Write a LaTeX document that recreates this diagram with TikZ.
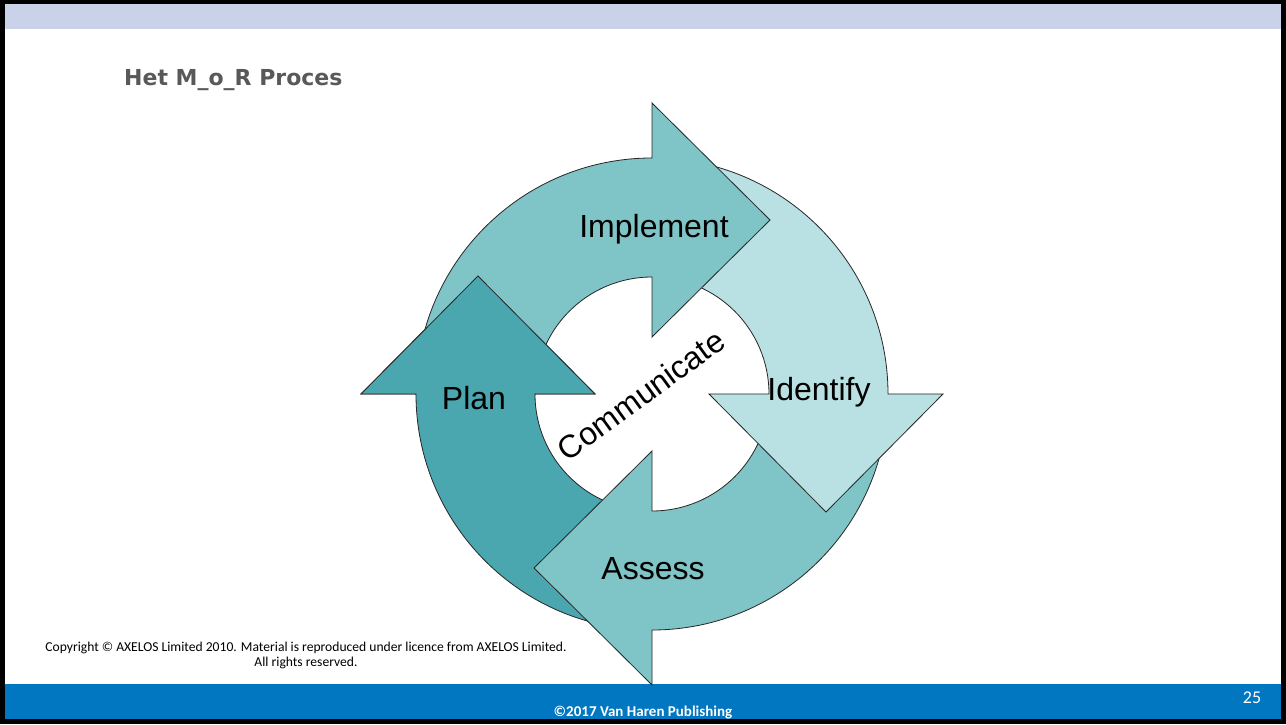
\documentclass[tikz,border=0pt]{standalone}
\usepackage{fontspec}
\setmainfont{Liberation Sans}
\newfontfamily\slidefont{Carlito}
\newfontfamily\titlefont{DejaVu Sans}
\usepackage{tikz}
\usetikzlibrary{calc}

\definecolor{tealmid}{HTML}{7FC4C6}
\definecolor{teallight}{HTML}{B9E0E3}
\definecolor{tealdark}{HTML}{4AA6AF}
\definecolor{bandtop}{HTML}{C9D2E9}
\definecolor{bandblue}{HTML}{0077C0}
\definecolor{titlegray}{HTML}{595959}

% one quarter of the cycle: band from 180 to 90 degrees, head pointing clockwise
\newcommand{\cyclearrow}{(180:236pt) arc[start angle=180,end angle=90,radius=236pt]
  -- (0,291) -- (118,174) -- (0,57) -- (0,117)
  arc[start angle=90,end angle=180,radius=117pt] -- cycle}

\begin{document}
\begin{tikzpicture}[x=1pt,y=1pt,
    quarter/.style={draw=black!85,line width=0.8pt},
    steplabel/.style={font=\fontsize{32}{38}\selectfont,text=black,inner sep=0pt}]
  \useasboundingbox (0,0) rectangle (1286,724);

  % slide frame and bands
  \fill[black] (0,0) rectangle (1286,724);
  \fill[white] (5,5) rectangle (1281,720);
  \fill[bandtop] (5,695) rectangle (1281,720);
  \fill[bandblue] (5,5) rectangle (1281,40);

  \node[anchor=base west,inner sep=0pt,text=titlegray,
    font=\titlefont\bfseries\fontsize{22}{26}\selectfont] (title) at (124,638) {Het M\_o\_R Proces};

  % the cycle
  \coordinate (c) at (652,330);
  \begin{scope}[shift={(c)}]
    \draw[quarter,fill=tealdark,rotate=90] \cyclearrow;
    \draw[quarter,fill=tealmid,rotate=180] \cyclearrow;
    \draw[quarter,fill=teallight,rotate=-90] \cyclearrow;
    \draw[quarter,fill=tealmid] \cyclearrow;
    % head of plan lies over implement
    \begin{scope}
      \clip (-310,-0.6) rectangle (-20,140);
      \draw[quarter,fill=tealdark,rotate=90] \cyclearrow;
    \end{scope}
  \end{scope}

  \node[steplabel,anchor=base] (implement) at (654,486) {Implement};
  \node[steplabel,anchor=base] (identify) at (819,323) {Identify};
  \node[steplabel,anchor=base] (assess) at (653,145) {Assess};
  \node[steplabel,anchor=base] (plan) at (474,314) {Plan};
  \node[steplabel,rotate=36] (communicate) at (641,329) {Communicate};

  % footer texts
  \node[anchor=base,inner sep=0pt,font=\slidefont\fontsize{13.6}{16}\selectfont] (copyright) at (306,73)
    {Copyright \textcopyright{} AXELOS Limited 2010. Material is reproduced under licence from AXELOS Limited.};
  \node[anchor=base,inner sep=0pt,font=\slidefont\fontsize{13.6}{16}\selectfont] (rights) at (306,58)
    {All rights reserved.};
  \node[anchor=base,inner sep=0pt,text=white,font=\slidefont\bfseries\fontsize{15}{17}\selectfont] (publisher) at (643,7.5)
    {\textcopyright 2017 Van Haren Publishing};
  \node[anchor=base,inner sep=0pt,text=white,font=\slidefont\fontsize{18}{20}\selectfont] (page) at (1252,21) {25};
\end{tikzpicture}
\end{document}
